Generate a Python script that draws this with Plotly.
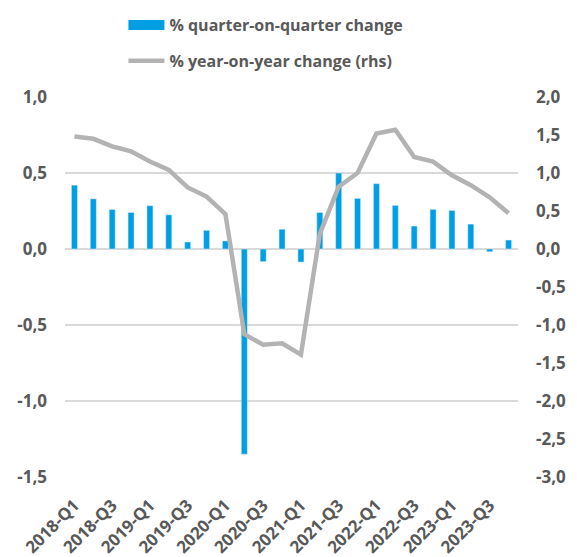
import plotly.graph_objects as go

quarters = [f"{y}-Q{q}" for y in range(2018, 2024) for q in range(1, 5)]
qoq = [0.42, 0.33, 0.26, 0.24, 0.285, 0.225, 0.046, 0.123, 0.053, -1.35, -0.083, 0.13,
       -0.086, 0.24, 0.50, 0.333, 0.43, 0.287, 0.151, 0.261, 0.254, 0.164, -0.018, 0.059]
yoy = [1.48, 1.45, 1.35, 1.285, 1.15, 1.04, 0.81, 0.69, 0.46, -1.12, -1.26, -1.24,
       -1.39, 0.2, 0.82, 1.0, 1.52, 1.57, 1.21, 1.15, 0.97, 0.84, 0.68, 0.47]
tick_labels = quarters[::2]
left_ticks = [-1.5, -1.0, -0.5, 0.0, 0.5, 1.0]
right_ticks = [-3.0, -2.5, -2.0, -1.5, -1.0, -0.5, 0.0, 0.5, 1.0, 1.5, 2.0]
series_names = ["% quarter-on-quarter change", "% year-on-year change (rhs)"]


def fmt(v):
    return "<b>" + f"{v:.1f}".replace(".", ",") + "</b>"


def bold(s):
    return f"<b>{s}</b>"


txt = "#595959"
FONT = "Open Sans"
blue = "#009FE3"
grey = "#B3B3B3"

fig = go.Figure()
fig.add_trace(go.Bar(x=quarters, y=qoq, name=series_names[0],
                     marker_color=blue, showlegend=False, yaxis="y"))
# legend-only entry drawn as a wide blue block
fig.add_trace(go.Scatter(x=[None], y=[None], name=bold(series_names[0]), mode="lines",
                         line=dict(color=blue, width=11), legendgroup="a",
                         hoverinfo="skip"))
fig.add_trace(go.Scatter(x=quarters, y=yoy, name=bold(series_names[1]),
                         mode="lines", line=dict(color=grey, width=4.5),
                         legendgroup="b", yaxis="y2"))

fig.update_layout(
    width=577, height=557,
    margin=dict(l=57, r=67, t=89, b=88, autoexpand=False),
    paper_bgcolor="white", plot_bgcolor="white",
    bargap=0.68,
    font=dict(family=FONT, color=txt, size=16),
    showlegend=True,
    legend=dict(orientation="v", x=0.447, xanchor="center", y=1.01, yanchor="top",
                xref="container", yref="container",
                traceorder="grouped", tracegroupgap=12, itemwidth=36,
                font=dict(family=FONT, size=16, color=txt)),
    xaxis=dict(type="category", tickmode="array", tickvals=tick_labels,
               ticktext=[bold(t) for t in tick_labels],
               tickangle=-45, showgrid=False, showline=False, ticks="", automargin=False,
               ticklabelstandoff=14,
               tickfont=dict(family=FONT, size=17, color=txt)),
    yaxis=dict(range=[-1.5, 1.0], tickmode="array", tickvals=left_ticks,
               ticktext=[fmt(v) for v in left_ticks], automargin=False,
               showgrid=True, gridcolor="#D9D9D9", gridwidth=1.5,
               zeroline=True, zerolinecolor="#D9D9D9", zerolinewidth=1.5,
               showline=False, ticks="", ticklabelstandoff=17,
               tickfont=dict(family=FONT, size=17, color=txt)),
    yaxis2=dict(range=[-3.0, 2.0], tickmode="array", tickvals=right_ticks,
                ticktext=[fmt(v) for v in right_ticks], overlaying="y", anchor="x",
                side="right", showgrid=False, zeroline=False, showline=False,
                ticks="", automargin=False, ticklabelstandoff=17,
                tickfont=dict(family=FONT, size=17, color=txt)),
)
fig.write_html("out.html")
